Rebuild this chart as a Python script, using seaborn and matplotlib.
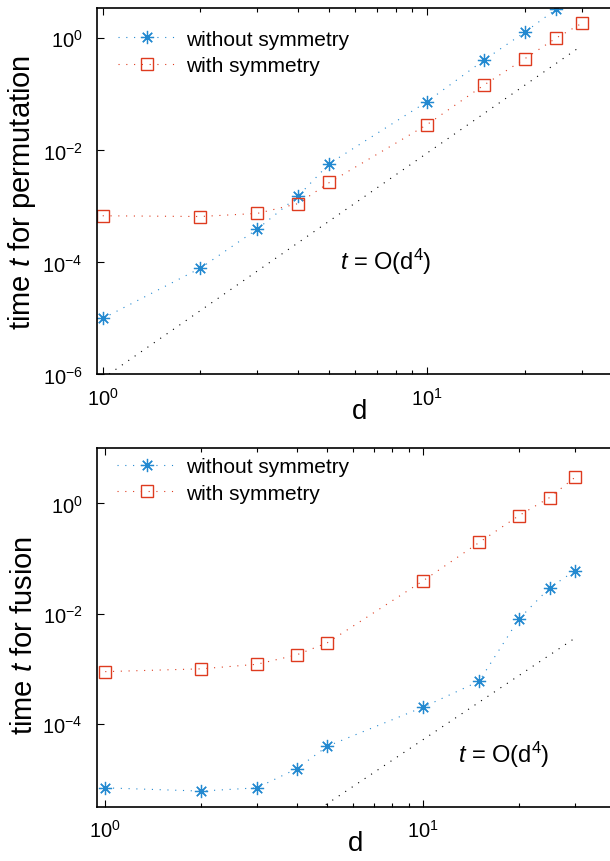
import numpy as np
import pandas as pd
import matplotlib
matplotlib.use("Agg")
import matplotlib.pyplot as plt
import matplotlib.ticker as mticker
import seaborn as sns

# values
d_perm_nosym = [1, 2, 3, 4, 5, 10, 15, 20, 25]
t_perm_nosym = [1.0e-5, 7.9e-5, 3.95e-4, 1.52e-3, 5.8e-3, 0.074, 0.41, 1.28, 3.3]
d_perm_sym = [1, 2, 3, 4, 5, 10, 15, 20, 25, 30]
t_perm_sym = [6.8e-4, 6.6e-4, 7.5e-4, 1.12e-3, 2.67e-3, 0.0288, 0.147, 0.43, 1.01, 1.85]

d_fus = [1, 2, 3, 4, 5, 10, 15, 20, 25, 30]
t_fus_nosym = [6.95e-6, 6.07e-6, 6.95e-6, 1.54e-5, 3.96e-5, 2.02e-4, 5.96e-4, 8.0e-3, 0.0296, 0.060]
t_fus_sym = [8.9e-4, 1.0e-3, 1.21e-3, 1.79e-3, 2.98e-3, 0.0396, 0.196, 0.60, 1.28, 2.96]

# O(d^4) guide lines (end points)
ref_perm_d = [1, 30]
ref_perm_t = [8.5e-7, 0.74]
ref_fus_d = [4.5, 30]
ref_fus_t = [2.4e-6, 3.6e-3]

blue = "#2389d0"
red = "#de3b1f"
dots = (0, (1, 6))

sns.set_style("ticks")
plt.rcParams["font.family"] = ["Liberation Sans", "DejaVu Sans"]
plt.rcParams["mathtext.fontset"] = "custom"
plt.rcParams["mathtext.rm"] = "Liberation Sans"
plt.rcParams["mathtext.it"] = "Liberation Sans:italic"
plt.rcParams["xtick.direction"] = "in"
plt.rcParams["ytick.direction"] = "in"
plt.rcParams["text.color"] = "black"
plt.rcParams["axes.labelcolor"] = "black"

fig = plt.figure(figsize=(6.1, 8.62), dpi=100)
ax1 = fig.add_axes([0.1585, 0.5644, 0.8616, 0.4248])
ax2 = fig.add_axes([0.1585, 0.0630, 0.849, 0.4158])


def draw(ax, d1, t1, d2, t2, rd, rt, leg_y):
    sns.lineplot(x=d1, y=t1, ax=ax, estimator=None, color=blue, lw=0.8,
                 linestyle=dots, marker=(8, 2, 0), markersize=9.5,
                 markeredgewidth=0.9, markeredgecolor=blue,
                 label="without symmetry")
    sns.lineplot(x=d2, y=t2, ax=ax, estimator=None, color=red, lw=0.8,
                 linestyle=dots, marker="s", markersize=8.5,
                 markerfacecolor="none", markeredgewidth=1.0,
                 markeredgecolor=red, label="with symmetry")
    sns.lineplot(x=rd, y=rt, ax=ax, estimator=None, color="black", lw=0.8,
                 linestyle=dots)
    ax.set_xscale("log")
    ax.set_yscale("log")
    ax.xaxis.set_major_locator(mticker.LogLocator(base=10))
    ax.xaxis.set_minor_locator(mticker.LogLocator(base=10, subs=np.arange(2, 10)))
    ax.xaxis.set_minor_formatter(mticker.NullFormatter())
    ax.yaxis.set_major_locator(mticker.FixedLocator([1e-6, 1e-4, 1e-2, 1e0]))
    ax.yaxis.set_minor_locator(mticker.NullLocator())
    ax.tick_params(which="both", top=True, right=False, labelsize=14.5,
                   width=0.8, colors="black")
    ax.tick_params(which="major", length=5)
    ax.tick_params(which="minor", length=3)
    ax.tick_params(axis="x", pad=9)
    ax.tick_params(axis="y", pad=10)
    for s in ax.spines.values():
        s.set_linewidth(1.2)
        s.set_color("black")
    ax.set_xlabel("d", fontsize=20)
    ax.xaxis.set_label_coords(0.5, -0.065)
    ax.legend(loc="upper left", bbox_to_anchor=(0.04, leg_y), frameon=False,
              fontsize=15, handlelength=2.8, handletextpad=0.5,
              labelspacing=0.35, borderpad=0, borderaxespad=0)


draw(ax1, d_perm_nosym, t_perm_nosym, d_perm_sym, t_perm_sym,
     ref_perm_d, ref_perm_t, 0.942)
ax1.set_xlim(0.958, 40)
ax1.set_ylim(1e-6, 3.43)
ax1.set_ylabel("time $t$ for permutation", fontsize=21)
ax1.yaxis.set_label_coords(-0.112, 0.5)
ax1.text(7.47, 1.05e-4, "$t$ = O(d$^4$)", fontsize=17, ha="center", va="center")

draw(ax2, d_fus, t_fus_nosym, d_fus, t_fus_sym, ref_fus_d, ref_fus_t, 0.975)
ax2.set_xlim(0.94, 40)
ax2.set_ylim(10 ** -5.5, 10)
ax2.set_ylabel("time $t$ for fusion", fontsize=21)
ax2.yaxis.set_label_coords(-0.113, 0.48)
ax2.text(17.9, 2.9e-5, "$t$ = O(d$^4$)", fontsize=17, ha="center", va="center")

fig.savefig("out.png", dpi=100)
